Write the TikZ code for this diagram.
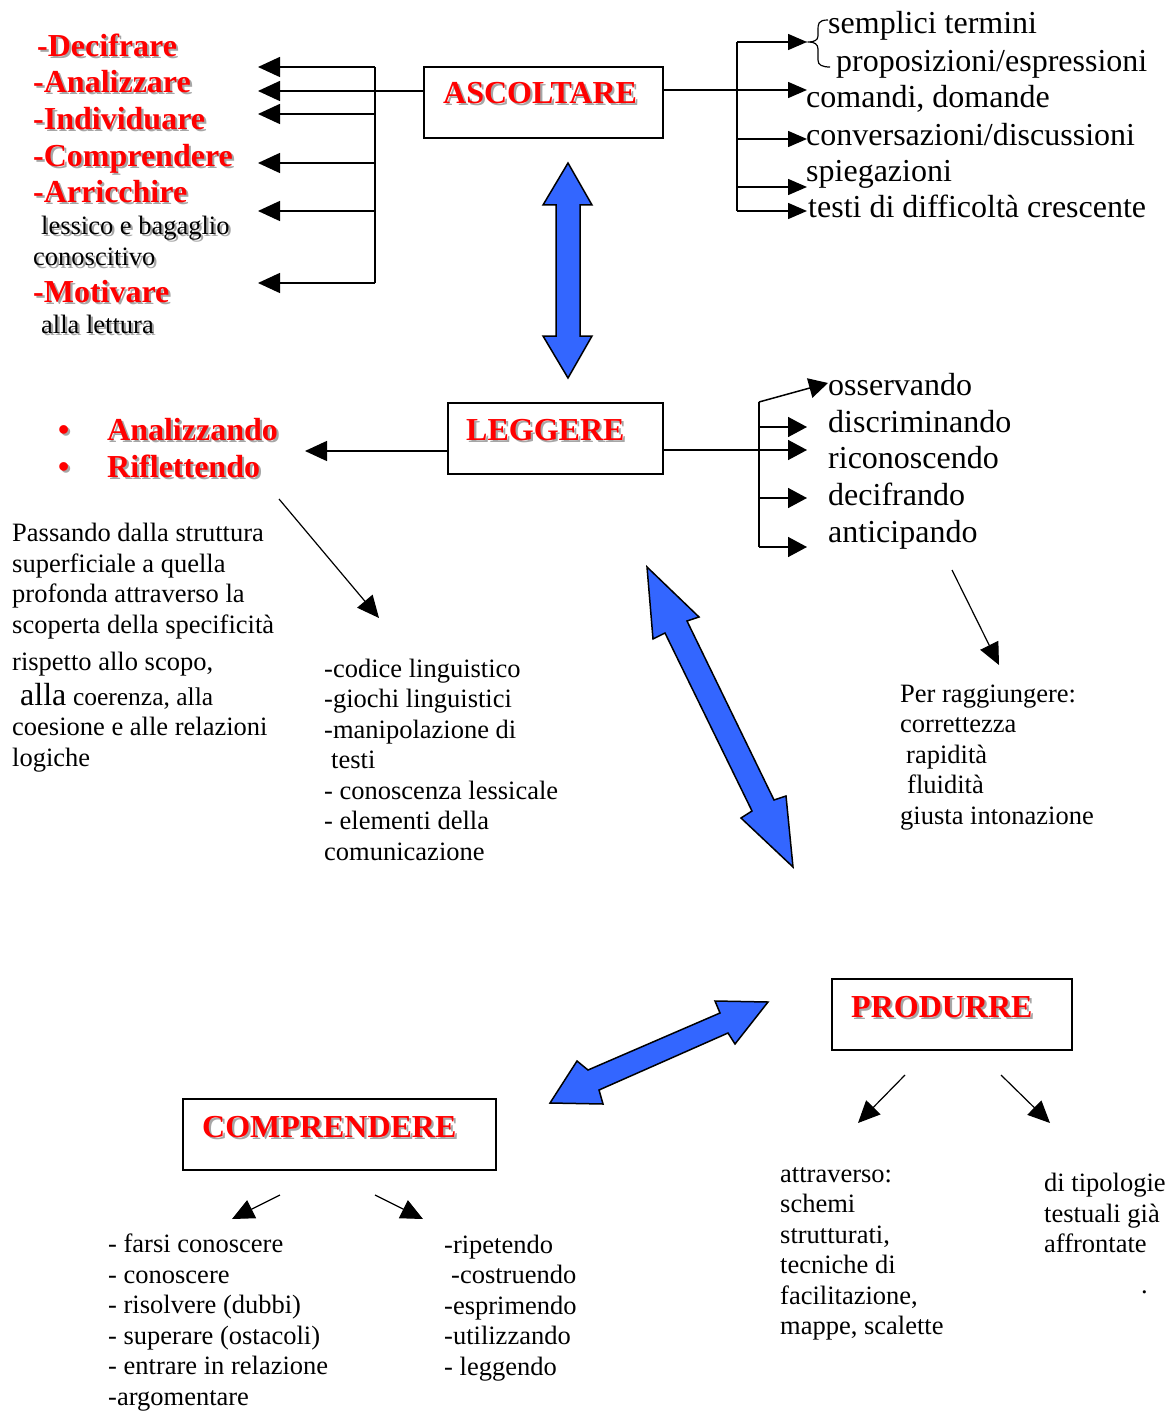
\documentclass[tikz,border=0pt]{standalone}
\usepackage{fontspec}
\setmainfont{Liberation Serif}
\usetikzlibrary{arrows.meta}
\definecolor{arrowblue}{RGB}{51,102,255}
\newcommand\shad[1]{\makebox[0pt][l]{\hspace{2.2pt}\raisebox{-2pt}{\textcolor{black!35}{#1}}}#1}

\begin{document}
\begin{tikzpicture}[x=1pt,y=-1pt,
  box/.style={draw,line width=1.5pt,inner sep=0pt},
  head/.style={text=red,font=\bfseries\fontsize{32}{37}\selectfont,anchor=base west,inner sep=0pt},
  big/.style={font=\fontsize{32}{37}\selectfont,anchor=base west,inner sep=0pt},
  small/.style={font=\fontsize{26.5}{30.5}\selectfont,anchor=base west,inner sep=0pt,align=left},
  tipL/.style={line width=1.5pt,-{Triangle[length=22pt,width=20pt]}},
  tipS/.style={line width=1.5pt,-{Triangle[length=19pt,width=16pt]}},
  tipM/.style={line width=1.5pt,-{Triangle[length=19pt,width=20pt]}},
  thinarrow/.style={line width=1.2pt,-{Triangle[length=22pt,width=20pt]}},
  bigarrow/.style={draw=black,fill=arrowblue,line width=1.5pt,line join=miter}]
\useasboundingbox (0,0) rectangle (1173,1412);

% boxes
\node[box,minimum width=239pt,minimum height=71pt] (asc) at (543.5,102.5) {};
\node[box,minimum width=215pt,minimum height=71pt] (leg) at (555.5,438.5) {};
\node[box,minimum width=240pt,minimum height=71pt] (prod) at (952,1014.5) {};
\node[box,minimum width=313pt,minimum height=71pt] (comp) at (339.5,1134.5) {};
\node[head] (asct) at (443,104) {\shad{ASCOLTARE}};
\node[head] (legt) at (466,440) {\shad{LEGGERE}};
\node[head] (prodt) at (851,1017) {\shad{PRODURRE}};
\node[head] (compt) at (202,1137) {\shad{COMPRENDERE}};

% ascoltare, left
\node[head] (dec) at (37,57) {\shad{-Decifrare}};
\node[head] (ana) at (33,93) {\shad{-Analizzare}};
\node[head] (ind) at (33,130) {\shad{-Individuare}};
\node[head] (cmp) at (33,167) {\shad{-Comprendere}};
\node[head] (arr) at (33,203) {\shad{-Arricchire}};
\node[small] (less) at (41,235) {\shad{lessico e bagaglio}};
\node[small] (cono) at (33,266) {\shad{conoscitivo}};
\node[head] (mot) at (33,302) {\shad{-Motivare}};
\node[small] (lett) at (41,333) {\shad{alla lettura}};

\coordinate (ascW) at (424,91);
\coordinate (lt) at (375,67);
\coordinate (lb) at (375,283);
\draw[line width=1.5pt] (lt) -- (lb);
\foreach \y [count=\i] in {67,91,114,163,211,283}{
  \coordinate (la\i) at (375,\y);
  \coordinate (lb\i) at (258,\y);
  \draw[tipL] (la\i) -- (lb\i);
}
\draw[line width=1.5pt] (ascW) -- (la2);

% ascoltare, right
\coordinate (ascE) at (663,90);
\coordinate (rt) at (737,42);
\coordinate (rb) at (737,211);
\draw[line width=1.5pt] (rt) -- (rb);
\foreach \y [count=\i] in {42,90,139,187,211}{
  \coordinate (ra\i) at (737,\y);
  \coordinate (rb\i) at (807,\y);
  \draw[tipS] (ra\i) -- (rb\i);
}
\draw[line width=1.5pt] (ascE) -- (ra2);
\draw[line width=1.2pt] (828,20) .. controls (818,20) and (818,24) .. (818,30) -- (818,36)
  .. controls (818,40) and (814,42) .. (809,42) .. controls (814,42) and (818,44) .. (818,49)
  -- (818,60) .. controls (818,65) and (822,67) .. (830,67);
\node[big] (semp) at (828,34) {semplici termini};
\node[big] (prop) at (836,72) {proposizioni/espressioni};
\node[big] (coma) at (806,108) {comandi, domande};
\node[big] (conv) at (806,146) {conversazioni/discussioni};
\node[big] (spie) at (806,182) {spiegazioni};
\node[big] (test) at (808,218) {testi di difficoltà crescente};

% double arrow ascoltare - leggere
\draw[bigarrow] (568,163) -- (592,205) -- (580,205) -- (580,336) -- (592,336) -- (568,378)
  -- (543,336) -- (556,336) -- (556,205) -- (543,205) -- cycle;

% leggere, left
\coordinate (legW) at (448,451);
\coordinate (bul) at (305,451);
\draw[tipL] (legW) -- (bul);
\node[head] (b1) at (58,440) {\shad{•}};
\node[head] (anz) at (107,440) {\shad{Analizzando}};
\node[head] (b2) at (58,477) {\shad{•}};
\node[head] (rif) at (107,477) {\shad{Riflettendo}};
\coordinate (rifE) at (279,499);
\coordinate (codN) at (379,618);
\draw[thinarrow] (rifE) -- (codN);

% multi-line texts: placed at the baseline of their last line
\node[small] (pass) at (12,766) {Passando dalla struttura\\superficiale a quella\\profonda attraverso la\\scoperta della specificità\\[6.5pt]rispetto allo scopo,\\[4.5pt]
  \hspace*{8pt}{\fontsize{32}{30.5}\selectfont alla} {\fontsize{25.5}{30.5}\selectfont coerenza, alla}\\coesione e alle relazioni\\logiche};
\node[small] (cod) at (324,860) {-codice linguistico\\-giochi linguistici\\-manipolazione di\\\hspace*{7pt}testi\\- conoscenza lessicale\\- elementi della\\comunicazione};

% leggere, right
\coordinate (legE) at (663,450);
\coordinate (vt) at (759,402);
\coordinate (vb) at (759,547);
\coordinate (oss) at (828,383);
\draw[line width=1.5pt] (vt) -- (vb);
\draw[tipM] (vt) -- (oss);
\foreach \y [count=\i] in {427,450,498,547}{
  \coordinate (va\i) at (759,\y);
  \coordinate (vc\i) at (807,\y);
  \draw[tipM] (va\i) -- (vc\i);
}
\draw[line width=1.5pt] (legE) -- (va2);
\node[big] (osse) at (828,395) {osservando};
\node[big] (disc) at (828,432) {discriminando};
\node[big] (rico) at (828,468) {riconoscendo};
\node[big] (deci) at (828,505) {decifrando};
\node[big] (anti) at (828,542) {anticipando};
\coordinate (antiS) at (952,570);
\coordinate (perN) at (999,665);
\draw[thinarrow] (antiS) -- (perN);
\node[small] (per) at (900,824) {Per raggiungere:\\correttezza\\\hspace*{6pt}rapidità\\\hspace*{7pt}fluidità\\giusta intonazione};

% double arrow leggere - produrre
\draw[bigarrow] (647,567) -- (699,617) -- (687,621) -- (774,800) -- (786,796) -- (793,867)
  -- (741,818) -- (752,811) -- (665,633) -- (653,639) -- cycle;

% double arrow produrre - comprendere
\draw[bigarrow] (768,1002) -- (735,1044) -- (728,1033) -- (599,1090) -- (603,1104) -- (550,1103)
  -- (577,1061) -- (588,1070) -- (720,1013) -- (715,1001) -- cycle;

% produrre
\coordinate (pl) at (905,1075);
\coordinate (plt) at (858,1123);
\coordinate (pr) at (1001,1075);
\coordinate (prt) at (1050,1123);
\draw[thinarrow] (pl) -- (plt);
\draw[thinarrow] (pr) -- (prt);
\node[small] (attr) at (780,1334.5) {attraverso:\\schemi\\strutturati,\\tecniche di\\facilitazione,\\mappe, scalette};
\node[small] (tipo) at (1044,1293) {di tipologie\\testuali già\\affrontate\\[10pt]\hspace*{97pt}.};

% comprendere
\coordinate (cl) at (280,1195);
\coordinate (clt) at (232,1219);
\coordinate (cr) at (375,1195);
\coordinate (crt) at (423,1219);
\draw[thinarrow] (cl) -- (clt);
\draw[thinarrow] (cr) -- (crt);
\node[small] (fars) at (108,1405) {- farsi conoscere\\- conoscere\\- risolvere (dubbi)\\- superare (ostacoli)\\- entrare in relazione\\-argomentare};
\node[small] (ripe) at (444,1375) {-ripetendo\\\hspace*{7pt}-costruendo\\-esprimendo\\-utilizzando\\- leggendo};
\end{tikzpicture}
\end{document}
